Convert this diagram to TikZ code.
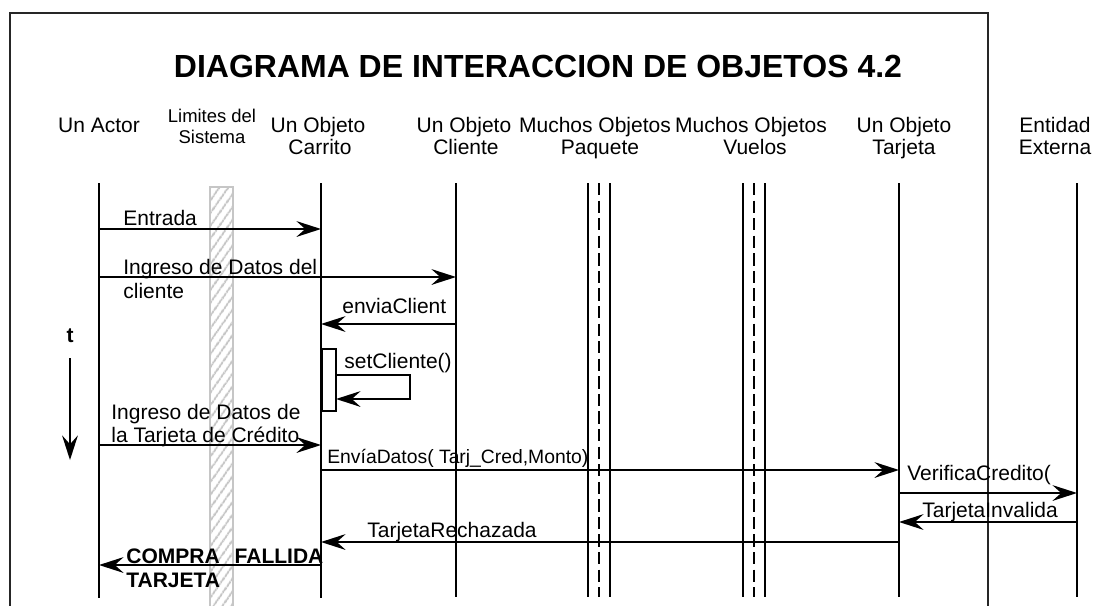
\documentclass[tikz,border=0pt]{standalone}
\usepackage{fontspec}
\setmainfont{Liberation Sans}
\usetikzlibrary{arrows.meta,patterns.meta}

\begin{document}
\begin{tikzpicture}[x=0.2mm, y=-0.2mm,
       lbl/.style={inner sep=0pt, anchor=base, font=\fontsize{11.95}{14}\selectfont},
       lblchico/.style={inner sep=0pt, anchor=base, font=\fontsize{10.5}{12}\selectfont},
       msg/.style={inner sep=0pt, anchor=base west, font=\fontsize{11.95}{14}\selectfont},
       life/.style={line width=1.1pt},
       flecha/.style={line width=1.1pt, -{Stealth[length=14pt, width=9pt, inset=5pt]}}]
       \useasboundingbox (0,0) rectangle (1094,605);

       \coordinate(M1) at (10,612);
       \coordinate(M2) at (10,13);
       \coordinate(M3) at (988,13);
       \coordinate(M4) at (988,612);
       \draw[line width=0.9pt, black!85] (M1) -- (M2) -- (M3) -- (M4);

       \node(T)[inner sep=0pt, font=\fontsize{18.2}{22}\selectfont\bfseries] at (538,66) {DIAGRAMA DE INTERACCION DE OBJETOS 4.2};

       \node(NA)[lbl] at (99,132) {Un Actor};
       \node(NL1)[lblchico] at (212,122) {Limites del};
       \node(NL2)[lblchico] at (212,143) {Sistema};
       \node(NC1)[lbl] at (318,132) {Un Objeto};
       \node(NC2)[lbl] at (320,154) {Carrito};
       \node(ND1)[lbl] at (464,132) {Un Objeto};
       \node(ND2)[lbl] at (466,154) {Cliente};
       \node(NP1)[lbl] at (595,132) {Muchos Objetos};
       \node(NP2)[lbl] at (600,154) {Paquete};
       \node(NV1)[lbl] at (751,132) {Muchos Objetos};
       \node(NV2)[lbl] at (755,154) {Vuelos};
       \node(NT1)[lbl] at (904,132) {Un Objeto};
       \node(NT2)[lbl] at (904,154) {Tarjeta};
       \node(NX1)[lbl] at (1055,132) {Entidad};
       \node(NX2)[lbl] at (1055,154) {Externa};

       \coordinate(L1) at (210,187);
       \coordinate(L2) at (233,612);
       \draw[gray!45, line width=1.2pt, pattern={Lines[angle=55, distance=4pt, line width=1.3pt]}, pattern color=gray!45] (L1) rectangle (L2);

       \coordinate(A1) at (99,183);
       \coordinate(A2) at (99,598);
       \draw[life] (A1) -- (A2);
       \coordinate(C1) at (321,183);
       \coordinate(C2) at (321,598);
       \draw[life] (C1) -- (C2);
       \coordinate(D1) at (456,183);
       \coordinate(D2) at (456,597);
       \draw[life] (D1) -- (D2);

       \coordinate(P1) at (588,183);
       \coordinate(P2) at (588,597);
       \coordinate(P3) at (599,183);
       \coordinate(P4) at (599,597);
       \coordinate(P5) at (610,183);
       \coordinate(P6) at (610,597);
       \draw[life] (P1) -- (P2);
       \draw[line width=1pt, dash pattern=on 7pt off 3pt] (P3) -- (P4);
       \draw[life] (P5) -- (P6);

       \coordinate(V1) at (743,183);
       \coordinate(V2) at (743,597);
       \coordinate(V3) at (754,183);
       \coordinate(V4) at (754,597);
       \coordinate(V5) at (765,183);
       \coordinate(V6) at (765,597);
       \draw[life] (V1) -- (V2);
       \draw[line width=1pt, dash pattern=on 7pt off 3pt] (V3) -- (V4);
       \draw[life] (V5) -- (V6);

       \coordinate(T1) at (899,183);
       \coordinate(T2) at (899,597);
       \draw[life] (T1) -- (T2);
       \coordinate(X1) at (1077,183);
       \coordinate(X2) at (1077,597);
       \draw[life] (X1) -- (X2);

       \node(t)[inner sep=0pt, anchor=base, font=\fontsize{11.95}{14}\selectfont\bfseries] at (70,342) {t};
       \coordinate(t1) at (70,358);
       \coordinate(t2) at (70,460);
       \draw[flecha] (t1) -- (t2);

       \coordinate(E1) at (99,229);
       \coordinate(E2) at (321,229);
       \draw[flecha] (E1) -- (E2);
       \node(NE)[msg] at (123,225) {Entrada};

       \coordinate(I1) at (99,277);
       \coordinate(I2) at (456,277);
       \draw[flecha] (I1) -- (I2);
       \node(NI1)[msg] at (123,274) {Ingreso de Datos del};
       \node(NI2)[msg] at (123,298) {cliente};

       \coordinate(R1) at (456,324);
       \coordinate(R2) at (321,324);
       \draw[flecha] (R1) -- (R2);
       \node(NR)[msg] at (342,313) {enviaClient};

       \coordinate(S1) at (322,349);
       \coordinate(S2) at (336,411);
       \draw[line width=1.1pt, fill=white] (S1) rectangle (S2);
       \coordinate(S3) at (336,375);
       \coordinate(S4) at (410,375);
       \coordinate(S5) at (410,399);
       \coordinate(S6) at (336,399);
       \draw[flecha] (S3) -- (S4) -- (S5) -- (S6);
       \node(NS)[msg] at (344,368) {setCliente()};

       \coordinate(G1) at (99,445);
       \coordinate(G2) at (321,445);
       \draw[flecha] (G1) -- (G2);
       \node(NG1)[msg] at (111,419) {Ingreso de Datos de};
       \node(NG2)[msg] at (111,442) {la Tarjeta de Crédito};

       \coordinate(F1) at (321,470);
       \coordinate(F2) at (899,470);
       \draw[flecha] (F1) -- (F2);
       \node(NF)[msg, font=\fontsize{11}{13}\selectfont] at (327,463) {EnvíaDatos( Tarj\_Cred,Monto)};

       \coordinate(K1) at (899,493);
       \coordinate(K2) at (1077,493);
       \draw[flecha] (K1) -- (K2);
       \node(NK)[msg] at (907,480) {VerificaCredito(};

       \coordinate(J1) at (1077,522);
       \coordinate(J2) at (899,522);
       \draw[flecha] (J1) -- (J2);
       \node(NJ)[msg] at (922,517) {TarjetaInvalida};

       \coordinate(H1) at (899,542);
       \coordinate(H2) at (321,542);
       \draw[flecha] (H1) -- (H2);
       \node(NH)[msg] at (367,537) {TarjetaRechazada};

       \coordinate(B1) at (321,565);
       \coordinate(B2) at (99,565);
       \draw[flecha] (B1) -- (B2);
       \node(NB1)[msg, font=\fontsize{11.95}{14}\selectfont\bfseries] at (126,563) {COMPRA\hspace{3mm}FALLIDA};
       \node(NB2)[msg, font=\fontsize{11.95}{14}\selectfont\bfseries] at (126,587) {TARJETA};
\end{tikzpicture}
\end{document}
